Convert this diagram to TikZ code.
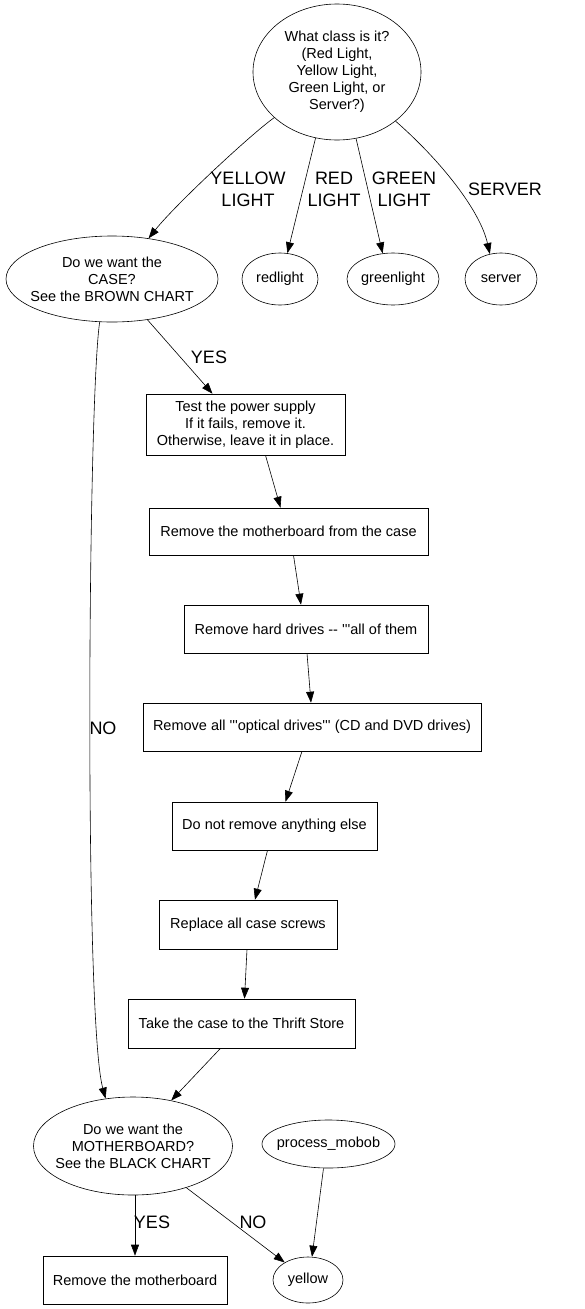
\documentclass[tikz,border=0pt]{standalone}
\usepackage{fontspec}
\setmainfont{Liberation Sans}
\usetikzlibrary{shapes.geometric, arrows.meta}

\newcommand{\qfont}{\fontsize{14.5}{17}\selectfont}
\newcommand{\lblfont}{\fontsize{18}{22}\selectfont}
\newcommand{\tq}{\textquotesingle\textquotesingle\textquotesingle}

\tikzset{
	question/.style={ellipse, draw=black, line width=0.6pt, inner sep=-8pt, align=center, font=\qfont},
	stepbox/.style={rectangle, draw=black, line width=0.6pt, inner sep=0pt, align=center, font=\qfont},
	edgelbl/.style={inner sep=0pt, align=center, font=\lblfont},
	flow/.style={-{Triangle[length=11pt, width=8pt]}, line width=0.6pt},
}

\begin{document}
\begin{tikzpicture}[x=1pt, y=-1pt]

\useasboundingbox (0, 0) rectangle (584, 1309);

\node (cls) at (337, 72) [question, minimum width=168pt, minimum height=136pt] {What class is it?\\(Red Light,\\Yellow Light,\\Green Light, or\\Server?)};

\node (case) at (112, 279) [question, minimum width=212pt, minimum height=86pt] {Do we want the\\CASE?\\See the BROWN CHART};
\node (red) at (280, 279) [question, minimum width=76pt, minimum height=52pt] {redlight};
\node (green) at (393, 279) [question, minimum width=92pt, minimum height=52pt] {greenlight};
\node (srv) at (501, 279) [question, minimum width=72pt, minimum height=52pt] {server};

\node (st-psu) at (245.5, 424.5) [stepbox, minimum width=199pt, minimum height=61pt] {Test the power supply\\If it fails, remove it.\\Otherwise, leave it in place.};
\node (st-mobo) at (288.5, 531.5) [stepbox, minimum width=279pt, minimum height=47pt] {Remove the motherboard from the case};
\node (st-hdd) at (306, 629) [stepbox, minimum width=244pt, minimum height=48pt] {Remove hard drives -{}- \tq all of them};
\node (st-odd) at (312, 727) [stepbox, minimum width=338pt, minimum height=48pt] {Remove all \tq optical drives\tq\ (CD and DVD drives)};
\node (st-keep) at (274.5, 826) [stepbox, minimum width=205pt, minimum height=48pt] {Do not remove anything else};
\node (st-screws) at (248, 924.5) [stepbox, minimum width=178pt, minimum height=49pt] {Replace all case screws};
\node (st-thrift) at (241.5, 1023.5) [stepbox, minimum width=227pt, minimum height=49pt] {Take the case to the Thrift Store};

\node (mobo) at (133, 1146) [question, minimum width=199pt, minimum height=98pt] {Do we want the\\MOTHERBOARD?\\See the BLACK CHART};
\node (proc) at (328.5, 1144) [question, minimum width=133pt, minimum height=48pt] {process\_mobob};
\node (rm-mobo) at (135, 1280) [stepbox, minimum width=184pt, minimum height=48pt] {Remove the motherboard};
\node (yellow) at (308, 1280) [question, minimum width=70pt, minimum height=46pt] {yellow};

% class branches
\draw[flow] (cls.216) .. controls (250, 135) and (175, 205) .. (case.48);
\draw[flow] (cls.252) -- (red.74);
\draw[flow] (cls.286) -- (green.112);
\draw[flow] (cls.320) .. controls (440, 160) and (480, 210) .. (srv.114);
\node (l-yellow) at (248, 189) [edgelbl] {YELLOW\\LIGHT};
\node (l-red) at (334, 189) [edgelbl] {RED\\LIGHT};
\node (l-green) at (404, 189) [edgelbl] {GREEN\\LIGHT};
\node (l-srv) at (505, 189) [edgelbl] {SERVER};

% case steps
\draw[flow] (case.311) -- ([xshift=-33pt]st-psu.north);
\node (l-yes1) at (209, 357) [edgelbl] {YES};
\draw[flow] ([xshift=20pt]st-psu.south) -- ([xshift=-8pt]st-mobo.north);
\draw[flow] ([xshift=5pt]st-mobo.south) -- ([xshift=-5pt]st-hdd.north);
\draw[flow] ([xshift=1pt]st-hdd.south) -- ([xshift=-1pt]st-odd.north);
\draw[flow] ([xshift=-10pt]st-odd.south) -- ([xshift=11pt]st-keep.north);
\draw[flow] ([xshift=-7pt]st-keep.south) -- ([xshift=7pt]st-screws.north);
\draw[flow] ([xshift=-1pt]st-screws.south) -- ([xshift=3pt]st-thrift.north);
\draw[flow] ([xshift=-21pt]st-thrift.south) -- (mobo.50);

\draw[flow] (case.254) .. controls (88, 400) and (84, 1020) .. (mobo.120);
\node (l-no1) at (103, 728) [edgelbl] {NO};

% motherboard
\draw[flow] ([xshift=2pt]mobo.south) -- (rm-mobo.north);
\node (l-yes2) at (152, 1222) [edgelbl] {YES};
\draw[flow] (mobo.322) -- (yellow.143);
\node (l-no2) at (253, 1222) [edgelbl] {NO};
\draw[flow] ([xshift=-5pt]proc.south) -- ([xshift=4pt]yellow.north);

\end{tikzpicture}
\end{document}
